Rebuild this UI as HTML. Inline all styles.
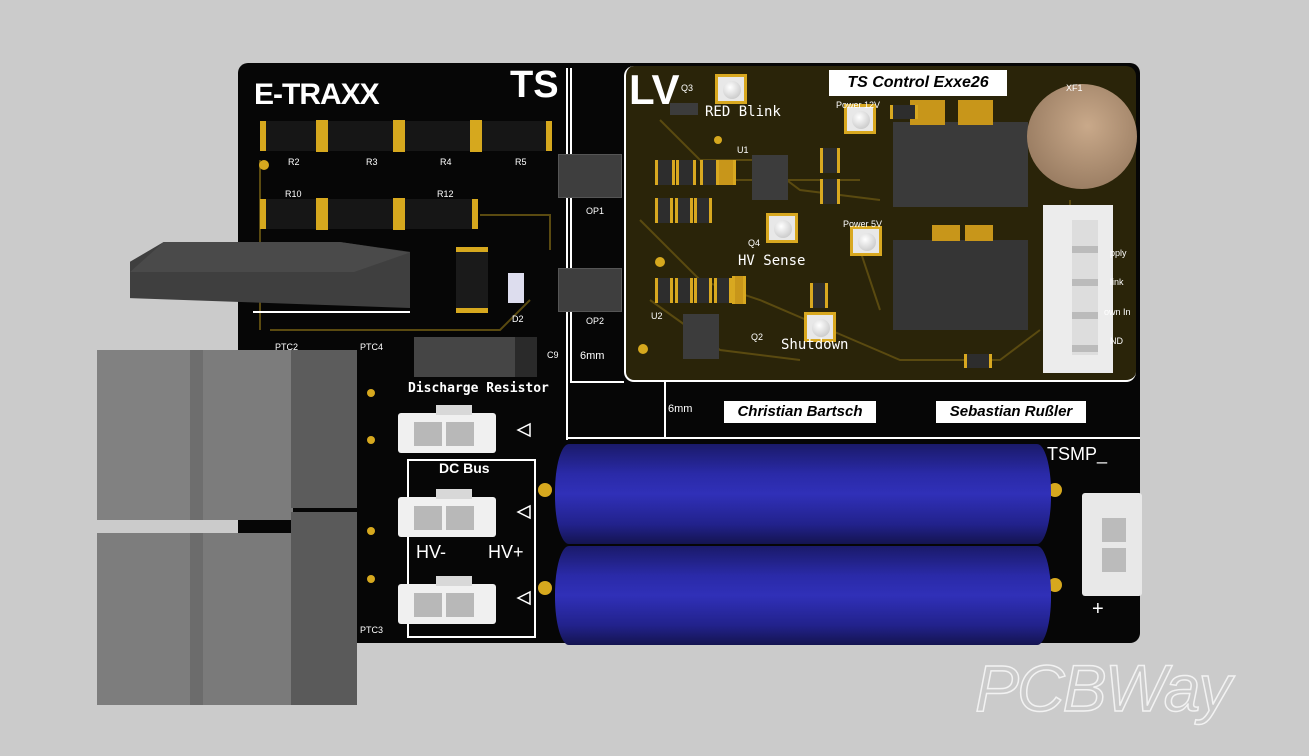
<!DOCTYPE html>
<html><head><meta charset="utf-8"><style>
*{margin:0;padding:0;box-sizing:border-box}
body{width:1309px;height:756px;background:#cbcbcb;position:relative;overflow:hidden;font-family:"Liberation Sans",sans-serif}
.a{position:absolute}
.w{color:#fff}
.lbl{position:absolute;color:#fff;font-size:9px}
.res{position:absolute;background:#161616;height:30px}
.smd{position:absolute;background:#2d2d2d;border-left:3px solid #d8a820;border-right:3px solid #d8a820}
.btn{position:absolute;width:32px;height:30px;background:#e8e8e8;border:3px solid #d8a820}
.btn:after{content:"";position:absolute;left:5px;top:4px;width:18px;height:18px;border-radius:50%;background:radial-gradient(circle at 40% 35%,#fff,#bbb)}
.gb{position:absolute;background:#7a7a7a}
.conn{position:absolute;width:98px;height:40px;background:#f0f0f0;border-radius:3px}
.conn i{position:absolute;top:9px;width:28px;height:24px;background:#b8b8b8}
.conn b{position:absolute;left:38px;top:-8px;width:36px;height:10px;background:#d8d8d8}
.cap{position:absolute;background:linear-gradient(#1a1a6a,#2a2aa8 30%,#3030b8 50%,#22228c 80%,#141450);border-radius:14px/48px}
</style></head><body>
<div class="a" style="left:238px;top:63px;width:902px;height:580px;background:#060606;border-radius:10px"></div>
<div class="a" style="left:624px;top:66px;width:512px;height:316px;border:2px solid #fff;border-radius:10px;background:#2a2409;border-top:none;border-right:none"></div>
<svg class="a" style="left:0;top:0" width="1309" height="756">
<g stroke="#5a4a10" stroke-width="2" fill="none">
<path d="M660 120 L700 160 L760 160 L800 190 L880 200"/><path d="M640 220 L700 280 L760 300 L830 330 L900 360 L1000 360 L1040 330"/>
<path d="M650 300 L720 350 L800 360"/><path d="M260 160 L260 330"/><path d="M480 215 L550 215 L550 250"/><path d="M270 330 L500 330 L530 300"/>
<path d="M700 180 L860 180"/><path d="M860 250 L880 310"/><path d="M1070 200 L1070 360"/>
</g>
<g stroke="#fff" stroke-width="2" fill="none">
<path d="M567 68 V440 M567 438 H1140 M665 382 V438 M571 68 V382 H624"/>
<path d="M408 460 H535 V637 H408 Z"/>
<path d="M253 312 H410"/>
</g>
<g fill="#d6a81e"><circle cx="264" cy="165" r="5"/><circle cx="643" cy="349" r="5"/><circle cx="660" cy="262" r="5"/><circle cx="718" cy="140" r="4"/><circle cx="830" cy="155" r="5"/><circle cx="545" cy="490" r="7"/><circle cx="545" cy="588" r="7"/><circle cx="1055" cy="490" r="7"/><circle cx="1055" cy="585" r="7"/>
<circle cx="371" cy="393" r="4"/><circle cx="371" cy="440" r="4"/><circle cx="371" cy="531" r="4"/><circle cx="371" cy="579" r="4"/></g>
<polygon points="518,430 530,424 530,436" fill="none" stroke="#fff" stroke-width="1.5"/>
<polygon points="518,512 530,506 530,518" fill="none" stroke="#fff" stroke-width="1.5"/>
<polygon points="518,598 530,592 530,604" fill="none" stroke="#fff" stroke-width="1.5"/>
</svg>
<div class="a w" style="left:254px;top:78px;font-size:30px;font-weight:bold;letter-spacing:-1px">E-TRAXX</div>
<div class="a w" style="left:510px;top:64px;font-size:38px;font-weight:bold">TS</div>
<div class="a w" style="left:629px;top:66px;font-size:42px;font-weight:bold">LV</div>
<div class="res" style="left:260px;top:121px;width:292px;border-left:6px solid #d6a81e;border-right:6px solid #d6a81e"></div>
<div class="res" style="left:260px;top:199px;width:218px;border-left:6px solid #d6a81e;border-right:6px solid #d6a81e"></div>
<div class="a" style="left:316px;top:120px;width:12px;height:32px;background:#d6a81e"></div><div class="a" style="left:393px;top:120px;width:12px;height:32px;background:#d6a81e"></div><div class="a" style="left:470px;top:120px;width:12px;height:32px;background:#d6a81e"></div>
<div class="a" style="left:316px;top:198px;width:12px;height:32px;background:#d6a81e"></div><div class="a" style="left:393px;top:198px;width:12px;height:32px;background:#d6a81e"></div>
<div class="lbl" style="left:288px;top:157px">R2</div><div class="lbl" style="left:366px;top:157px">R3</div><div class="lbl" style="left:440px;top:157px">R4</div><div class="lbl" style="left:515px;top:157px">R5</div>
<div class="lbl" style="left:285px;top:189px">R10</div><div class="lbl" style="left:437px;top:189px">R12</div>
<div class="a" style="left:130px;top:242px;width:280px;height:66px;background:#3f3f3f;clip-path:polygon(12% 0,75% 0,100% 15%,100% 100%,0 85%,0 30%)"></div>
<div class="a" style="left:130px;top:242px;width:280px;height:30px;background:#4a4a4a;clip-path:polygon(12% 0,75% 0,100% 35%,80% 100%,0 100%)"></div>
<div class="a" style="left:456px;top:247px;width:32px;height:66px;background:#1a1a1a;border-top:5px solid #d6a81e;border-bottom:5px solid #d6a81e"></div>
<div class="a" style="left:508px;top:273px;width:16px;height:30px;background:#dde"></div>
<div class="lbl" style="left:512px;top:314px">D2</div>
<div class="a" style="left:558px;top:154px;width:64px;height:44px;background:#3e3e3e;border:1px solid #555"></div>
<div class="a" style="left:558px;top:268px;width:64px;height:44px;background:#3e3e3e;border:1px solid #555"></div>
<div class="lbl" style="left:586px;top:206px">OP1</div><div class="lbl" style="left:586px;top:316px">OP2</div>
<div class="a w" style="left:580px;top:350px;font-size:11px">6mm</div><div class="a w" style="left:668px;top:403px;font-size:11px">6mm</div>
<div class="a" style="left:414px;top:337px;width:123px;height:40px;background:#454545"><div class="a" style="right:0;top:0;width:22px;height:40px;background:#2a2a2a"></div></div>
<div class="lbl" style="left:547px;top:350px">C9</div>
<div class="a w" style="left:408px;top:381px;font-size:13px;font-weight:bold;font-family:'DejaVu Sans Mono',monospace">Discharge Resistor</div>
<div class="a w" style="left:439px;top:460px;font-size:14px;font-weight:bold">DC Bus</div>
<div class="a w" style="left:416px;top:542px;font-size:18px">HV-</div><div class="a w" style="left:488px;top:542px;font-size:18px">HV+</div>
<div class="conn" style="left:398px;top:413px"><b></b><i style="left:16px"></i><i style="left:48px"></i></div>
<div class="conn" style="left:398px;top:497px"><b></b><i style="left:16px"></i><i style="left:48px"></i></div>
<div class="conn" style="left:398px;top:584px"><b></b><i style="left:16px"></i><i style="left:48px"></i></div>
<div class="gb" style="left:97px;top:350px;width:95px;height:170px;background:#818181"></div>
<div class="gb" style="left:190px;top:350px;width:14px;height:170px;background:#6e6e6e"></div>
<div class="gb" style="left:203px;top:350px;width:90px;height:170px;background:#7c7c7c"></div>
<div class="gb" style="left:291px;top:350px;width:66px;height:158px;background:#5c5c5c"></div>
<div class="gb" style="left:97px;top:533px;width:95px;height:172px;background:#7d7d7d"></div>
<div class="gb" style="left:190px;top:533px;width:14px;height:172px;background:#6c6c6c"></div>
<div class="gb" style="left:203px;top:533px;width:90px;height:172px;background:#7a7a7a"></div>
<div class="gb" style="left:291px;top:512px;width:66px;height:193px;background:#5a5a5a"></div>
<div class="lbl" style="left:275px;top:342px">PTC2</div><div class="lbl" style="left:360px;top:342px">PTC4</div><div class="lbl" style="left:360px;top:625px">PTC3</div>
<div class="cap" style="left:555px;top:444px;width:496px;height:100px"></div>
<div class="cap" style="left:555px;top:546px;width:496px;height:99px"></div>
<div class="a" style="left:1082px;top:493px;width:60px;height:103px;background:#e8e8e8;border-radius:3px"><div class="a" style="left:20px;top:25px;width:24px;height:24px;background:#bbb"></div><div class="a" style="left:20px;top:55px;width:24px;height:24px;background:#bbb"></div></div>
<div class="a w" style="left:1047px;top:444px;font-size:18px">TSMP_</div>
<div class="a w" style="left:1092px;top:598px;font-size:20px">+</div>
<div class="a" style="left:829px;top:70px;width:178px;height:26px;background:#fff;color:#000;font-size:16px;font-style:italic;font-weight:bold;text-align:center;line-height:26px">TS Control Exxe26</div>
<div class="a" style="left:724px;top:401px;width:152px;height:22px;background:#fff;color:#000;font-size:15px;font-style:italic;font-weight:bold;text-align:center;line-height:22px">Christian Bartsch</div>
<div class="a" style="left:936px;top:401px;width:150px;height:22px;background:#fff;color:#000;font-size:15px;font-style:italic;font-weight:bold;text-align:center;line-height:22px">Sebastian Rußler</div>
<div class="a" style="left:893px;top:122px;width:135px;height:85px;background:#3a3a3a"></div>
<div class="a" style="left:893px;top:240px;width:135px;height:90px;background:#353535"></div>
<div class="a" style="left:910px;top:100px;width:35px;height:25px;background:#c8961a"></div><div class="a" style="left:958px;top:100px;width:35px;height:25px;background:#c8961a"></div>
<div class="a" style="left:932px;top:225px;width:28px;height:16px;background:#c8961a"></div><div class="a" style="left:965px;top:225px;width:28px;height:16px;background:#c8961a"></div>
<div class="a" style="left:1027px;top:84px;width:110px;height:105px;border-radius:50%;background:radial-gradient(circle at 55% 40%,#c9a98a,#8a6e55)"></div>
<div class="a" style="left:1043px;top:205px;width:70px;height:168px;background:#ececec"></div>
<div class="a" style="left:1072px;top:220px;width:26px;height:135px;background:repeating-linear-gradient(#ddd 0 26px,#bbb 26px 33px)"></div>
<div class="a" style="left:752px;top:155px;width:36px;height:45px;background:#3c3c3c"></div>
<div class="a" style="left:683px;top:314px;width:36px;height:45px;background:#3c3c3c"></div>
<div class="a" style="left:670px;top:103px;width:28px;height:12px;background:#3c3c3c"></div>
<div class="smd" style="left:655px;top:160px;width:20px;height:25px"></div><div class="smd" style="left:676px;top:160px;width:20px;height:25px"></div><div class="smd" style="left:700px;top:160px;width:20px;height:25px"></div><div class="smd" style="left:716px;top:160px;width:20px;height:25px;background:#c8961a"></div>
<div class="smd" style="left:655px;top:198px;width:18px;height:25px"></div><div class="smd" style="left:675px;top:198px;width:18px;height:25px"></div><div class="smd" style="left:694px;top:198px;width:18px;height:25px"></div>
<div class="smd" style="left:655px;top:278px;width:18px;height:25px"></div><div class="smd" style="left:675px;top:278px;width:18px;height:25px"></div><div class="smd" style="left:694px;top:278px;width:18px;height:25px"></div><div class="smd" style="left:714px;top:278px;width:18px;height:25px"></div><div class="smd" style="left:732px;top:276px;width:14px;height:28px;background:#c8961a"></div>
<div class="smd" style="left:820px;top:148px;width:20px;height:25px"></div><div class="smd" style="left:820px;top:179px;width:20px;height:25px"></div>
<div class="smd" style="left:964px;top:354px;width:28px;height:14px"></div>
<div class="smd" style="left:890px;top:105px;width:28px;height:14px"></div>
<div class="smd" style="left:810px;top:283px;width:18px;height:25px"></div>
<div class="btn" style="left:715px;top:74px"></div><div class="btn" style="left:844px;top:104px"></div><div class="btn" style="left:766px;top:213px"></div><div class="btn" style="left:850px;top:226px"></div><div class="btn" style="left:804px;top:312px"></div>
<div class="a w" style="left:705px;top:104px;font-size:14px;font-family:'DejaVu Sans Mono',monospace">RED Blink</div>
<div class="a w" style="left:738px;top:253px;font-size:14px;font-family:'DejaVu Sans Mono',monospace">HV Sense</div>
<div class="a w" style="left:781px;top:337px;font-size:14px;font-family:'DejaVu Sans Mono',monospace">Shutdown</div>
<div class="lbl" style="left:836px;top:100px">Power 12V</div><div class="lbl" style="left:843px;top:219px">Power 5V</div>
<div class="lbl" style="left:737px;top:145px">U1</div><div class="lbl" style="left:651px;top:311px">U2</div><div class="lbl" style="left:748px;top:238px">Q4</div><div class="lbl" style="left:751px;top:332px">Q2</div><div class="lbl" style="left:681px;top:83px">Q3</div><div class="lbl" style="left:1066px;top:83px">XF1</div>
<div class="lbl" style="left:1110px;top:248px">pply</div><div class="lbl" style="left:1110px;top:277px">link</div><div class="lbl" style="left:1104px;top:307px">own In</div><div class="lbl" style="left:1110px;top:336px">ND</div>
<div class="a" style="left:975px;top:650px;font-size:66px;font-style:italic;color:transparent;-webkit-text-stroke:1.5px #f2f2f2;letter-spacing:-2px">PCBWay</div>
</body></html>
